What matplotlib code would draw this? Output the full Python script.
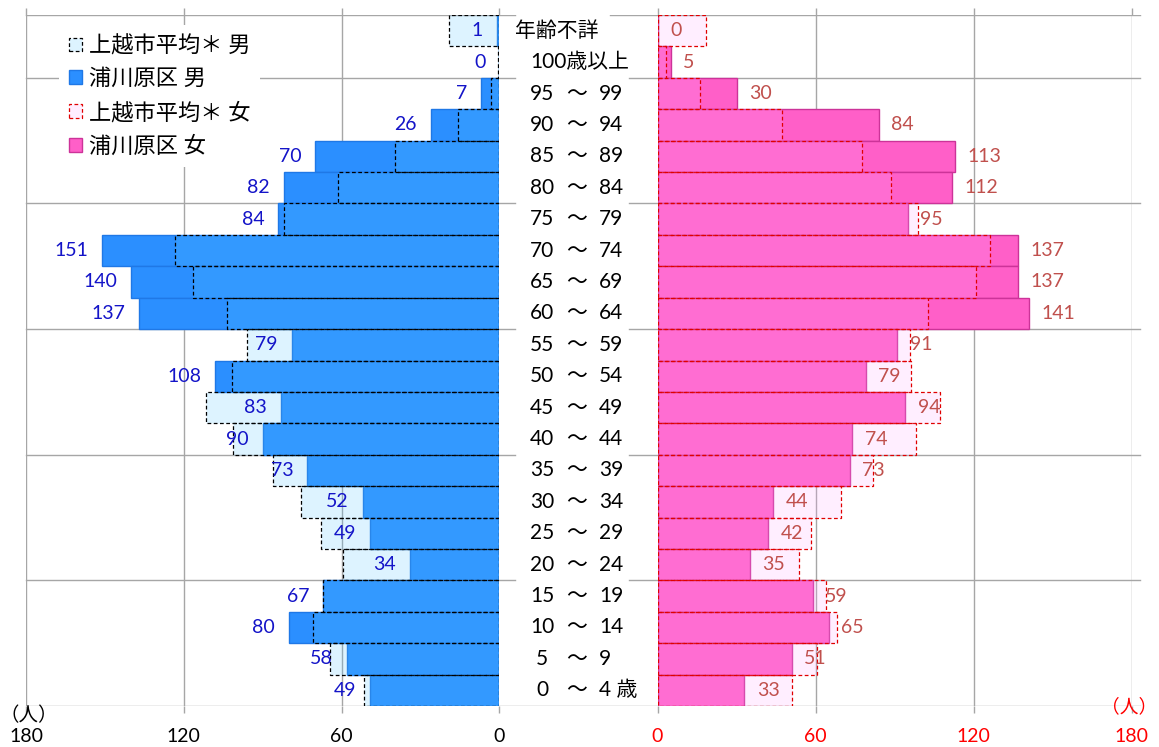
import matplotlib
matplotlib.use("Agg")
import matplotlib.pyplot as plt

plt.rcParams['font.family'] = ['Lato', 'Noto Sans CJK JP']

# Age groups, top to bottom
age_labels = ["年齢不詳", "100歳以上", "95 ～ 99", "90 ～ 94", "85 ～ 89", "80 ～ 84",
              "75 ～ 79", "70 ～ 74", "65 ～ 69", "60 ～ 64", "55 ～ 59", "50 ～ 54",
              "45 ～ 49", "40 ～ 44", "35 ～ 39", "30 ～ 34", "25 ～ 29", "20 ～ 24",
              "15 ～ 19", "10 ～ 14", "5 ～ 9", "0 ～ 4 歳"]

# 浦川原区 population
male = [1, 0, 7, 26, 70, 82, 84, 151, 140, 137, 79, 108,
        83, 90, 73, 52, 49, 34, 67, 80, 58, 49]
female = [0, 5, 30, 84, 113, 112, 95, 137, 137, 141, 91, 79,
          94, 74, 73, 44, 42, 35, 59, 65, 51, 33]

# 上越市平均 (scaled city average)
city_male = [19, 0.5, 3, 15.6, 39.5, 61.5, 81.7, 123.3, 116.3, 103.7, 95.8, 101.5,
             111.5, 101.3, 86, 75.4, 67.8, 59.6, 67.2, 70.8, 64.3, 51.6]
city_female = [18.5, 3.3, 16, 47.3, 77.6, 88.8, 98.9, 126.3, 121, 102.6, 96, 96.3,
               107.4, 98.2, 81.8, 69.6, 58.4, 53.9, 63.8, 68.3, 60.5, 51.1]

x_ticks = [0, 60, 120, 180]
legend_labels = ["上越市平均＊ 男", "浦川原区 男", "上越市平均＊ 女", "浦川原区 女"]

W, H = 1159, 747
fig = plt.figure(figsize=(W / 100, H / 100), dpi=100)

top_px, bot_px = 15, 706
ax_h = (bot_px - top_px) / H
ax_b = 1 - bot_px / H

grid_c = "#A6A6A6"
rows = list(range(len(age_labels)))
n = len(age_labels)

# background axes in pixel x-units for the horizontal rules and centre labels
axBG = fig.add_axes([0, ax_b, 1, ax_h])
axBG.set_xlim(0, W)
axBG.set_ylim(n - 0.5, -0.5)
axBG.axis("off")
axBG.set_zorder(0)

axL = fig.add_axes([26 / W, ax_b, (499.3 - 26) / W, ax_h])
axR = fig.add_axes([657.5 / W, ax_b, (1131.5 - 657.5) / W, ax_h])

for ax in (axL, axR):
    ax.set_zorder(1)
    ax.patch.set_visible(False)
    ax.set_ylim(n - 0.5, -0.5)
    ax.set_yticks([])
    for s in ax.spines.values():
        s.set_visible(False)
    ax.set_xticks(x_ticks)
    ax.grid(axis="x", color=grid_c, linewidth=1.0, zorder=0)
    ax.set_axisbelow(True)
    ax.tick_params(axis="x", which="both", bottom=True, top=True, length=5,
                   width=1.0, color=grid_c, labelsize=14, pad=11)

axL.set_xlim(180, 0)
axR.set_xlim(0, 180)
for t in axR.get_xticklabels():
    t.set_color("#FF0000")

# horizontal rules at group boundaries
bounds = [-0.5, 1.5, 5.5, 9.5, 13.5, 17.5, 21.5]
for b in bounds:
    if b == 21.5:
        axBG.plot([26, 1140], [b, b], color=grid_c, lw=1.0)
    else:
        gap_end = 610 if b == -0.5 else 629
        axBG.plot([26, 515], [b, b], color=grid_c, lw=1.0)
        axBG.plot([gap_end, 1140], [b, b], color=grid_c, lw=1.0)

dash = (0, (3, 2))
# male side
bm = axL.barh(rows, male, height=1.0, color="#2B8FFF", edgecolor="#1F78E6",
              linewidth=1.0, zorder=2)
cm = axL.barh(rows, city_male, height=1.0, facecolor=(85 / 255, 195 / 255, 1, 0.2),
              edgecolor="black", linestyle=dash, linewidth=0.9, zorder=3)
# female side
bf = axR.barh(rows, female, height=1.0, color="#FF5FC8", edgecolor="#CC3399",
              linewidth=1.0, zorder=2)
cf = axR.barh(rows, city_female, height=1.0, facecolor=(1, 170 / 255, 1, 0.2),
              edgecolor="#E00000", linestyle=dash, linewidth=0.9, zorder=3)

for i, v in enumerate(male):
    axL.annotate(str(v), (v, i), xytext=(-10, 0), textcoords="offset points",
                 ha="right", va="center", fontsize=14, color="#1414C8", zorder=5)
for i, v in enumerate(female):
    axR.annotate(str(v), (v, i), xytext=(9, 0), textcoords="offset points",
                 ha="left", va="center", fontsize=14, color="#C0504D", zorder=5)

# centre age labels
lab_fs = 15
for i, lab in enumerate(age_labels):
    if "～" in lab:
        a, b = lab.split("～")
        axBG.text(542, i, a.strip(), ha="center", va="center", fontsize=lab_fs)
        axBG.text(577, i, "～", ha="center", va="center", fontsize=lab_fs)
        axBG.text(599, i, b.strip(), ha="left", va="center", fontsize=lab_fs)
    else:
        x0 = 515 if i == 0 else 530
        axBG.text(x0, i, lab, ha="left", va="center", fontsize=lab_fs)

fig.text(29 / W, 1 - 715 / H, "（人）", ha="center", va="center", fontsize=14,
         color="black")
fig.text(1129 / W, 1 - 706 / H, "（人）", ha="center", va="center", fontsize=13.5,
         color="#FF0000")

leg = fig.legend([cm, bm, cf, bf], legend_labels, loc="upper left",
                 bbox_to_anchor=(59 / W, 1 - 25 / H), frameon=True,
                 facecolor="white", edgecolor="none", framealpha=1, fontsize=16,
                 handlelength=0.58, handleheight=0.58, handletextpad=0.3,
                 labelspacing=0.55, borderpad=0.45, borderaxespad=0)
leg.set_zorder(10)

fig.savefig("out.png", dpi=100)
